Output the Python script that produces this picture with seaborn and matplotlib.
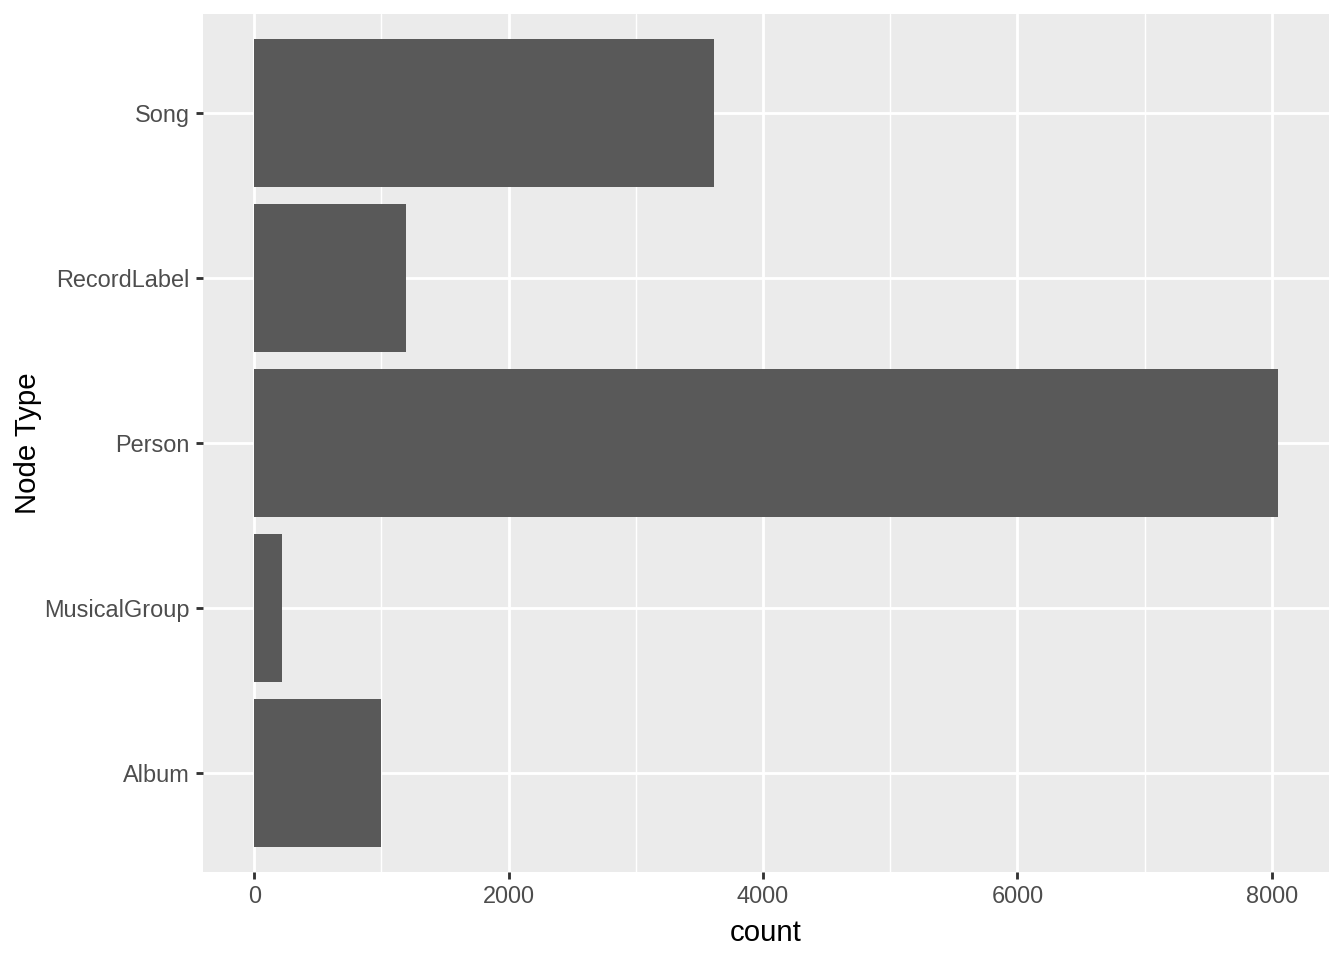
import matplotlib
matplotlib.use('Agg')
import matplotlib.pyplot as plt
import seaborn as sns
import pandas as pd
from matplotlib.ticker import MultipleLocator

# node type counts, top to bottom
node_types = ['Song', 'RecordLabel', 'Person', 'MusicalGroup', 'Album']
counts = [3615, 1194, 8047, 220, 998]

df = pd.DataFrame({'Node Type': node_types, 'count': counts})

sns.set_style('white')
plt.rcParams['font.family'] = ['Liberation Sans', 'DejaVu Sans']

fig = plt.figure(figsize=(7, 5), dpi=192)
ax = fig.add_axes([203 / 1344, 88 / 960, (1329 - 203) / 1344, (872 - 14) / 960])

sns.barplot(data=df, x='count', y='Node Type', order=node_types, orient='h',
            color='#595959', saturation=1, width=0.9, linewidth=0,
            edgecolor='none', ax=ax, zorder=3)

# ggplot2 style panel
ax.set_facecolor('#EBEBEB')
for s in ax.spines.values():
    s.set_visible(False)
xmax = max(counts)
pad = xmax * 0.05
ax.set_xlim(-pad, xmax + pad)
ax.set_ylim(len(node_types) - 0.4, -0.6)
ax.xaxis.set_major_locator(MultipleLocator(2000))
ax.xaxis.set_minor_locator(MultipleLocator(1000))
ax.grid(which='major', color='white', linewidth=1.07, zorder=0)
ax.grid(which='minor', axis='x', color='white', linewidth=0.53, zorder=0)
ax.set_axisbelow(True)
ax.tick_params(which='major', bottom=True, left=True, length=2.75, width=1.07,
               color='#333333', labelsize=8.8, labelcolor='#4D4D4D', pad=2.2)
ax.tick_params(which='minor', length=0)
ax.set_xlabel('count', fontsize=11, color='black', labelpad=4)
ax.set_ylabel('Node Type', fontsize=11, color='black', labelpad=1)

fig.savefig('out.png', dpi=192, facecolor='white')
